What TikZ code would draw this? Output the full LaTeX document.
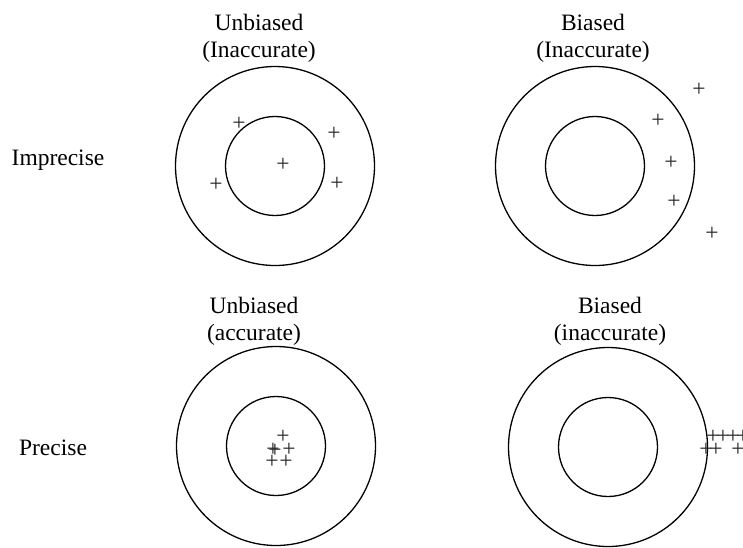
\documentclass[tikz,border=0pt]{standalone}
\usepackage{fontspec}
\setmainfont{Liberation Serif}
\begin{document}
\begin{tikzpicture}[
    x=1pt, y=-1pt,
    every node/.style={font=\fontsize{23.5}{26.5}\selectfont},
    outer/.style={circle, draw, line width=1.3pt, minimum size=199pt, inner sep=0pt},
    inner/.style={circle, draw, line width=1.3pt, minimum size=99pt, inner sep=0pt},
    title/.style={align=center, anchor=base, inner sep=0pt},
    rowlabel/.style={anchor=base, inner sep=0pt},
    hit/.style={inner sep=0pt, text=black!85}
]
\useasboundingbox (0,0) rectangle (743,547);

% Targets
\node[outer] (ulout) at (275,166) {};
\node[inner] (ulin) at (275,166) {};
\node[outer] (urout) at (595,166) {};
\node[inner] (urin) at (595,166) {};
\node[outer] (llout) at (276,446) {};
\node[inner] (llin) at (276,446) {};
\node[outer] (lrout) at (608,447) {};
\node[inner] (lrin) at (608,447) {};

% Column titles (anchored on the last line)
\node[title] (ultitle) at (259,57) {Unbiased\\(Inaccurate)};
\node[title] (urtitle) at (593,57) {Biased\\(Inaccurate)};
\node[title] (lltitle) at (254,340) {Unbiased\\(accurate)};
\node[title] (lrtitle) at (610,340) {Biased\\(inaccurate)};

% Row labels
\node[rowlabel] (imprecise) at (58,165) {Imprecise};
\node[rowlabel] (precise) at (53,455) {Precise};

% Shots: unbiased, imprecise
\node[hit] (ul1) at (239,124) {+};
\node[hit] (ul2) at (334,134) {+};
\node[hit] (ul3) at (283,165) {+};
\node[hit] (ul4) at (216,185) {+};
\node[hit] (ul5) at (337,184) {+};

% Shots: biased, imprecise
\node[hit] (ur1) at (699,90) {+};
\node[hit] (ur2) at (658,121) {+};
\node[hit] (ur3) at (671,163) {+};
\node[hit] (ur4) at (674,202) {+};
\node[hit] (ur5) at (712,234) {+};

% Shots: unbiased, precise
\node[hit] (ll1) at (283,437) {+};
\node[hit] (ll2) at (273,450) {+};
\node[hit] (ll3) at (275,451) {+};
\node[hit] (ll4) at (289,450) {+};
\node[hit] (ll5) at (272,462) {+};
\node[hit] (ll6) at (286,462) {+};

% Shots: biased, precise
\node[hit] (lr1) at (713,437) {+};
\node[hit] (lr2) at (723,437) {+};
\node[hit] (lr3) at (733,437) {+};
\node[hit] (lr4) at (743,437) {+};
\node[hit] (lr5) at (706,450) {+};
\node[hit] (lr6) at (716,450) {+};
\node[hit] (lr7) at (738,450) {+};

\end{tikzpicture}
\end{document}
